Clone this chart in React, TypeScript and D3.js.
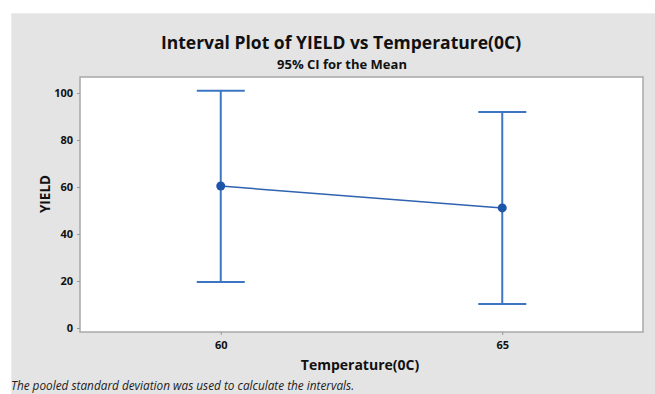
import React, { useEffect, useRef } from 'react';
import * as d3 from 'd3';

const temperatures = [60, 65];
const means = [60.4, 51.1];
const lowerCI = [19.6, 10.2];
const upperCI = [100.9, 91.9];
const yTicks = [0, 20, 40, 60, 80, 100];

const W = 655;
const H = 394;
const margin = { top: 77, right: 12, bottom: 62, left: 80 };
const font = '"Open Sans", "Noto Sans", sans-serif';

const App = () => {
  const ref = useRef<SVGSVGElement>(null);

  useEffect(() => {
    const svg = d3.select(ref.current);
    svg.selectAll('*').remove();

    const pw = W - margin.left - margin.right;
    const ph = H - margin.top - margin.bottom;

    const x = d3.scaleLinear().domain([57.5, 67.5]).range([0, pw]);
    const y = d3.scaleLinear().domain([-1.7, 106.8]).range([ph, 0]);

    // gray background panel
    svg.append('rect').attr('width', W).attr('height', H).attr('fill', '#fff');
    svg.append('rect')
      .attr('x', 11.5).attr('y', 13.5)
      .attr('width', W - 11).attr('height', H - 13)
      .attr('fill', '#e4e4e4')
      .attr('stroke', '#ececec');

    svg.append('text')
      .attr('x', 341).attr('y', 49)
      .attr('text-anchor', 'middle')
      .style('font-family', font).style('font-weight', 700).style('font-size', '17.5px')
      .attr('fill', '#111')
      .text('Interval Plot of YIELD vs Temperature(0C)');

    svg.append('text')
      .attr('x', 342).attr('y', 68.5)
      .attr('text-anchor', 'middle')
      .style('font-family', font).style('font-weight', 700).style('font-size', '13px')
      .attr('fill', '#111')
      .text('95% CI for the Mean');

    const g = svg.append('g').attr('transform', `translate(${margin.left},${margin.top})`);

    g.append('rect')
      .attr('width', pw).attr('height', ph)
      .attr('fill', '#fff')
      .attr('stroke', '#a8a8a8').attr('stroke-width', 1.5);

    const yAxis = g.append('g').call(d3.axisLeft(y).tickValues(yTicks).tickSize(3).tickPadding(4));
    yAxis.select('.domain').remove();
    yAxis.selectAll('line').attr('stroke', '#999');
    yAxis.selectAll('text')
      .style('font-family', font).style('font-weight', 700).style('font-size', '11px')
      .attr('fill', '#111');

    const xAxis = g.append('g')
      .attr('transform', `translate(0,${ph})`)
      .call(d3.axisBottom(x).tickValues(temperatures).tickSize(3).tickPadding(6));
    xAxis.select('.domain').remove();
    xAxis.selectAll('line').attr('stroke', '#999');
    xAxis.selectAll('text')
      .style('font-family', font).style('font-weight', 700).style('font-size', '11px')
      .attr('fill', '#111');

    svg.append('text')
      .attr('x', 360).attr('y', 370)
      .attr('text-anchor', 'middle')
      .style('font-family', font).style('font-weight', 700).style('font-size', '14px')
      .attr('fill', '#111')
      .text('Temperature(0C)');

    svg.append('text')
      .attr('transform', `translate(50,${margin.top + y(57)}) rotate(-90)`)
      .attr('text-anchor', 'middle')
      .style('font-family', font).style('font-weight', 700).style('font-size', '13.5px')
      .attr('fill', '#111')
      .text('YIELD');

    svg.append('text')
      .attr('x', 11).attr('y', 390)
      .style('font-family', font).style('font-style', 'italic').style('font-size', '11.8px')
      .attr('fill', '#222')
      .text('The pooled standard deviation was used to calculate the intervals.');

    const rows = temperatures.map((t, i) => ({ t, m: means[i], lo: lowerCI[i], hi: upperCI[i] }));
    const blue = '#3c76c2';
    const cap = 24;

    g.selectAll('.whisker').data(rows).enter().append('line')
      .attr('x1', d => x(d.t)).attr('x2', d => x(d.t))
      .attr('y1', d => y(d.lo)).attr('y2', d => y(d.hi))
      .attr('stroke', blue).attr('stroke-width', 2);
    g.selectAll('.capHi').data(rows).enter().append('line')
      .attr('x1', d => x(d.t) - cap).attr('x2', d => x(d.t) + cap)
      .attr('y1', d => y(d.hi)).attr('y2', d => y(d.hi))
      .attr('stroke', blue).attr('stroke-width', 2);
    g.selectAll('.capLo').data(rows).enter().append('line')
      .attr('x1', d => x(d.t) - cap).attr('x2', d => x(d.t) + cap)
      .attr('y1', d => y(d.lo)).attr('y2', d => y(d.lo))
      .attr('stroke', blue).attr('stroke-width', 2);

    const line = d3.line<{ t: number; m: number }>().x(d => x(d.t)).y(d => y(d.m));
    g.append('path').datum(rows).attr('d', line)
      .attr('fill', 'none').attr('stroke', '#2f62b0').attr('stroke-width', 1.5);

    g.selectAll('.pt').data(rows).enter().append('circle')
      .attr('cx', d => x(d.t)).attr('cy', d => y(d.m)).attr('r', 4.5)
      .attr('fill', '#1d56a8');
  }, []);

  return (
    <svg ref={ref} width={W} height={H} style={{ position: 'absolute', left: 0, top: 0 }} />
  );
};

export default App;
